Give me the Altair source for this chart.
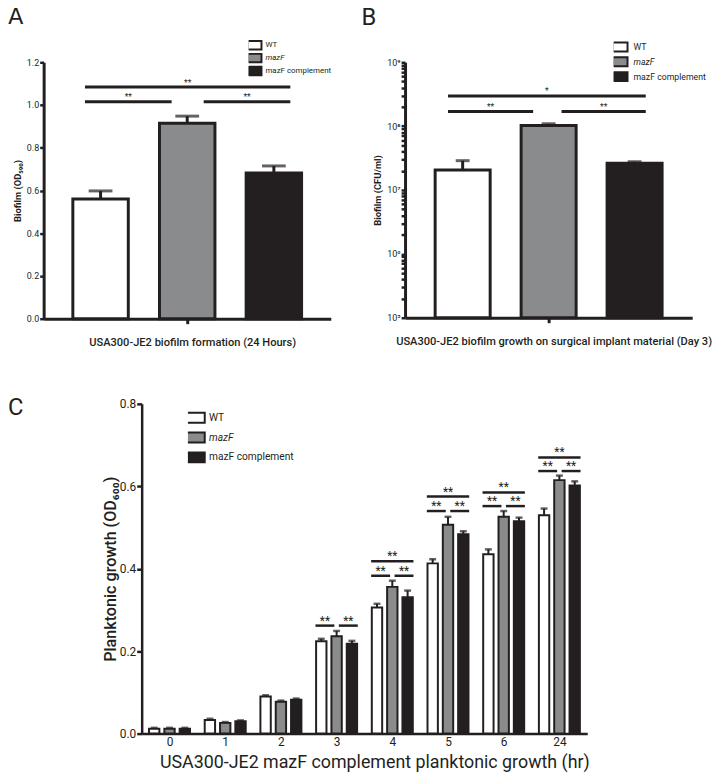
import json
import altair as alt
import pandas as pd

INK = "#231f20"
GRAY = "#8a8b8d"
TXT = "Roboto"

strains = ["WT", "mazF", "mazF complement"]
strain_fill = ["#ffffff", GRAY, INK]

# ---------------- Panel A : biofilm OD590 ----------------
a_mean = [0.560, 0.915, 0.682]
a_err = [0.038, 0.033, 0.033]
a_sig_from = [0, 0, 1]
a_sig_to = [2, 1, 2]
a_sig_y = [1.084, 1.015, 1.015]
a_sig_text = ["**", "**", "**"]

# ---------------- Panel B : biofilm CFU/ml ----------------
b_mean = [2.05e7, 1.02e8, 2.62e7]
b_err = [0.83e7, 0.07e8, 0.15e7]
b_sig_from = [0, 0, 1]
b_sig_to = [2, 1, 2]
b_sig_y = [2.97e8, 1.70e8, 1.70e8]
b_sig_text = ["*", "**", "**"]

# ---------------- Panel C : planktonic growth OD600 ----------------
c_hours = ["0", "1", "2", "3", "4", "5", "6", "24"]
c_wt = [0.012, 0.033, 0.090, 0.224, 0.306, 0.413, 0.435, 0.530]
c_wt_err = [0.002, 0.003, 0.003, 0.006, 0.009, 0.010, 0.012, 0.016]
c_mazf = [0.012, 0.026, 0.077, 0.236, 0.356, 0.507, 0.526, 0.615]
c_mazf_err = [0.002, 0.002, 0.003, 0.013, 0.015, 0.019, 0.014, 0.011]
c_comp = [0.012, 0.030, 0.082, 0.218, 0.331, 0.484, 0.515, 0.602]
c_comp_err = [0.002, 0.002, 0.003, 0.007, 0.016, 0.007, 0.009, 0.010]
c_sig_group = [3, 3, 4, 4, 4, 5, 5, 5, 6, 6, 6, 7, 7, 7]
c_sig_from = [0, 1, 0, 1, 0, 0, 1, 0, 0, 1, 0, 0, 1, 0]
c_sig_to = [1, 2, 1, 2, 2, 1, 2, 2, 1, 2, 2, 1, 2, 2]
c_sig_y = [0.262, 0.262, 0.383, 0.383, 0.418, 0.540, 0.540, 0.575,
           0.552, 0.552, 0.585, 0.637, 0.637, 0.670]
c_sig_text = ["**"] * 14


def fill_legend(x, y, size, path, font_size, row_h, label_offset):
    return alt.Legend(
        title=None, orient="none", legendX=x, legendY=y, padding=0,
        symbolType=path, symbolSize=size, symbolStrokeColor=INK,
        symbolStrokeWidth=2, symbolOpacity=1,
        labelFont=TXT, labelFontSize=font_size, labelColor=INK,
        labelOffset=label_offset, rowPadding=0, clipHeight=row_h,
        labelFontStyle=alt.ExprRef(expr="datum.value == 'mazF' ? 'italic' : 'normal'"),
    )


def panel_ab(means, errs, sig_from, sig_to, sig_y, sig_text, xscale, yscale,
             xaxis, yaxis, base, legend, letter, letter_dx, letter_dy, sig_ends, height, cap):
    df = pd.DataFrame({"strain": strains, "idx": [0, 1, 2], "mean": means,
                       "top": [m + e for m, e in zip(means, errs)]})
    sig = pd.DataFrame({"f": sig_from, "t": sig_to, "y": sig_y, "label": sig_text})
    l0, r1, l1, r2 = sig_ends
    bars = alt.Chart(df).transform_calculate(
        l="datum.idx - 0.32", r="datum.idx + 0.32"
    ).mark_bar(stroke=INK, strokeWidth=3).encode(
        x=alt.X("l:Q", scale=xscale, axis=xaxis), x2="r:Q",
        y=alt.Y("mean:Q", scale=yscale, axis=yaxis), y2=alt.datum(base),
        fill=alt.Fill("strain:N", scale=alt.Scale(domain=strains, range=strain_fill),
                      legend=legend),
    )
    stems = alt.Chart(df).mark_rule(color=INK, strokeWidth=3).encode(
        x=alt.X("idx:Q", scale=xscale, axis=xaxis),
        y=alt.Y("mean:Q", scale=yscale, axis=yaxis), y2="top:Q")
    caps = alt.Chart(df).mark_tick(color=INK, thickness=3, size=cap, orient="horizontal").encode(
        x=alt.X("idx:Q", scale=xscale, axis=xaxis),
        y=alt.Y("top:Q", scale=yscale, axis=yaxis))
    sig_base = alt.Chart(sig).transform_calculate(
        l=f"datum.f == 0 ? {l0} : datum.f + {l1 - 1}",
        r=f"datum.t == 1 ? {r1} : datum.t + {r2 - 2}",
    ).transform_calculate(m="(datum.l + datum.r) / 2")
    sig_rules = sig_base.mark_rule(color=INK, strokeWidth=3).encode(
        x=alt.X("l:Q", scale=xscale, axis=xaxis), x2="r:Q",
        y=alt.Y("y:Q", scale=yscale, axis=yaxis))
    sig_lbl = sig_base.mark_text(color=INK, fontSize=8.5, font=TXT, baseline="alphabetic",
                                 dy=-1.5).encode(
        x=alt.X("m:Q", scale=xscale, axis=xaxis),
        y=alt.Y("y:Q", scale=yscale, axis=yaxis), text="label:N")
    return alt.layer(bars, stems, caps, sig_rules, sig_lbl).properties(
        width=290, height=height,
        title=alt.TitleParams(letter, anchor="start", frame="group", dx=letter_dx, dy=letter_dy,
                              fontSize=24, fontWeight="normal", font=TXT, color=INK),
    )


# ---- A
xA = alt.Scale(domain=[-0.657, 2.657], nice=False, zero=False)
yA = alt.Scale(domain=[0, 1.2], nice=False)
axA_x = alt.Axis(values=[1], labels=False, ticks=True, tickSize=5, tickWidth=3, domainWidth=3,
                 title="USA300-JE2 biofilm formation (24 Hours)", titleFontSize=11.2,
                 titleFontWeight=500, titlePadding=12, titleX=150, titleAlign="center",
                 grid=False)
axA_y = alt.Axis(values=[0, 0.2, 0.4, 0.6, 0.8, 1.0, 1.2], format=".1f", tickSize=4, tickWidth=2.5,
                 domainWidth=3, labelFontSize=9, labelPadding=1,
                 title="Biofilm (OD₅₉₀)", titleFontSize=9.5, titleFontWeight="bold",
                 titlePadding=4, grid=False)
rectA = "M-1.4,-0.85H1.4V0.85H-1.4Z"
panelA = panel_ab(a_mean, a_err, a_sig_from, a_sig_to, a_sig_y, a_sig_text, xA, yA,
                  axA_x, axA_y, 0, fill_legend(207, -23.6, 100, rectA, 8, 12.75, 5),
                  "A", -36, -6, (-0.18, 0.82, 1.19, 2.19), 259, 24)

# ---- B
xB = alt.Scale(domain=[-0.67, 2.67], nice=False, zero=False)
yB = alt.Scale(type="log", domain=[1e5, 1e9], nice=False)
b_ticks = [k * 10 ** e for e in range(5, 9) for k in range(1, 10)] + [10 ** 9]
axB_x = alt.Axis(values=[1], labels=False, ticks=True, tickSize=5, tickWidth=3, domainWidth=3,
                 title="USA300-JE2 biofilm growth on surgical implant material (Day 3)",
                 titleFontSize=11.2, titleFontWeight=500, titlePadding=12, titleX=150,
                 titleAlign="center", grid=False)
axB_y = alt.Axis(values=b_ticks, tickSize=4, tickWidth=2.5, domainWidth=3, labelFontSize=9,
                 labelPadding=1, labelOverlap=False,
                 labelExpr="abs(datum.value / pow(10, round(log(datum.value) / LN10)) - 1) < 0.001 ? "
                           "'10' + ['⁵','⁶','⁷','⁸','⁹'][round(log(datum.value) / LN10) - 5] : ''",
                 title="Biofilm (CFU/ml)", titleFontSize=9.5, titleFontWeight="bold",
                 titlePadding=4, grid=False)
rectB = "M-1.36,-0.82H1.36V0.82H-1.36Z"
panelB = panel_ab(b_mean, b_err, b_sig_from, b_sig_to, b_sig_y, b_sig_text, xB, yB,
                  axB_x, axB_y, 1e5, fill_legend(210.7, -22.8, 121, rectB, 8.8, 14.6, 7),
                  "B", -44, -6, (-0.17, 0.82, 1.15, 2.13), 258, 14)

# ---- C
rows = []
for s_i, (vals, errs) in enumerate([(c_wt, c_wt_err), (c_mazf, c_mazf_err), (c_comp, c_comp_err)]):
    for g, (v, e) in enumerate(zip(vals, errs)):
        rows.append({"strain": strains[s_i], "s": s_i, "g": g, "mean": v, "top": v + e})
dfC = pd.DataFrame(rows)
sigC = pd.DataFrame({"g": c_sig_group, "f": c_sig_from, "t": c_sig_to, "y": c_sig_y,
                     "label": c_sig_text})

xC = alt.Scale(domain=[-0.5, 7.5], nice=False, zero=False)
yC = alt.Scale(domain=[0, 0.8], nice=False)
axC_x = alt.Axis(values=list(range(len(c_hours))), ticks=False, domainWidth=2.5,
                 labelExpr=json.dumps(c_hours) + "[datum.value]", labelFontSize=12,
                 labelPadding=3, title="USA300-JE2 mazF complement planktonic growth (hr)",
                 titleFontSize=18, titleFontWeight="normal", titlePadding=6, titleX=235,
                 titleAlign="center", grid=False)
axC_y = alt.Axis(values=[0, 0.2, 0.4, 0.6, 0.8], format=".1f", tickSize=5, tickWidth=2.5,
                 domainWidth=2.5, labelFontSize=12, labelPadding=1,
                 title="Planktonic growth (OD₆₀₀)", titleFontSize=16.3, titleFontWeight=500,
                 titlePadding=1, grid=False)

rectC = "M-1.46,-0.77H1.46V0.77H-1.46Z"
baseC = alt.Chart(dfC).transform_calculate(c="datum.g + (datum.s - 1) * 0.275")
barsC = baseC.transform_calculate(l="datum.c - 0.093", r="datum.c + 0.093").mark_bar(
    stroke=INK, strokeWidth=2).encode(
    x=alt.X("l:Q", scale=xC, axis=axC_x), x2="r:Q",
    y=alt.Y("mean:Q", scale=yC, axis=axC_y), y2=alt.datum(0),
    fill=alt.Fill("strain:N", scale=alt.Scale(domain=strains, range=strain_fill),
                  legend=fill_legend(46.7, 4.1, 169, rectC, 10.3, 19.85, 6.3)))
stemsC = baseC.mark_rule(color=INK, strokeWidth=2).encode(
    x=alt.X("c:Q", scale=xC, axis=axC_x), y=alt.Y("mean:Q", scale=yC, axis=axC_y), y2="top:Q")
capsC = baseC.mark_tick(color=INK, thickness=2.5, size=7, orient="horizontal").encode(
    x=alt.X("c:Q", scale=xC, axis=axC_x), y=alt.Y("top:Q", scale=yC, axis=axC_y))
sigCb = alt.Chart(sigC).transform_calculate(
    l="datum.g - 0.38 + datum.f * 0.42", r="datum.g - 0.04 + (datum.t - 1) * 0.42"
).transform_calculate(m="(datum.l + datum.r) / 2")
sigCr = sigCb.mark_rule(color=INK, strokeWidth=2.5).encode(
    x=alt.X("l:Q", scale=xC, axis=axC_x), x2="r:Q", y=alt.Y("y:Q", scale=yC, axis=axC_y))
sigCt = sigCb.mark_text(color=INK, fontSize=12, font=TXT, baseline="alphabetic", dy=-1).encode(
    x=alt.X("m:Q", scale=xC, axis=axC_x), y=alt.Y("y:Q", scale=yC, axis=axC_y), text="label:N")
panelC = alt.layer(barsC, stemsC, capsC, sigCr, sigCt).properties(
    width=450, height=333,
    title=alt.TitleParams("C", anchor="start", frame="group", dx=-135, dy=26,
                          fontSize=24, fontWeight="normal", font=TXT, color=INK))

spacer = alt.Chart(pd.DataFrame({"v": [0]})).mark_point(opacity=0).encode(
    x=alt.X("v:Q", axis=None), y=alt.Y("v:Q", axis=None)).properties(width=99, height=333)

top = alt.hconcat(panelA, panelB, spacing=75, bounds="flush").resolve_scale(fill="independent")
bottom = alt.hconcat(spacer, panelC, spacing=0, bounds="flush").resolve_scale(fill="independent")
chart = alt.vconcat(top, bottom, spacing=48,
                    padding={"left": 0, "top": -7, "right": 0, "bottom": 0},
                    background="white").resolve_scale(fill="independent").configure_view(
    stroke=None).configure_axis(
    domainColor=INK, tickColor=INK, labelColor=INK, titleColor=INK,
    labelFont=TXT, titleFont=TXT, grid=False)

chart.save("out.html", embed_options={"renderer": "svg", "actions": False})
